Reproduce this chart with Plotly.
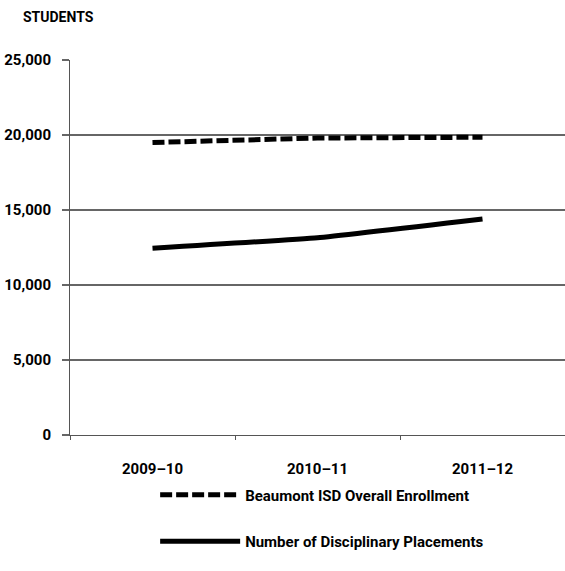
import plotly.graph_objects as go

years = ["2009\u201310", "2010\u201311", "2011\u201312"]
enrollment = [19500, 19800, 19850]
placements = [12450, 13150, 14400]
y_ticks = [0, 5000, 10000, 15000, 20000, 25000]
y_labels = ["0", "5,000", "10,000", "15,000", "20,000", "25,000"]

FONT = "Roboto, sans-serif"

def f(size):
    return dict(family=FONT, size=size, color="black", weight="bold")

fig = go.Figure()
fig.add_trace(go.Scatter(
    x=years, y=enrollment, mode="lines",
    name="Beaumont ISD Overall Enrollment",
    line=dict(color="black", width=5, dash="12px,4px"),
    legendgroup="a",
))
fig.add_trace(go.Scatter(
    x=years, y=placements, mode="lines",
    name="Number of Disciplinary Placements",
    line=dict(color="black", width=5, shape="spline", smoothing=0.3),
    legendgroup="b",
))

fig.update_layout(
    width=565, height=571,
    margin=dict(l=70, r=0, t=60, b=136),
    paper_bgcolor="white", plot_bgcolor="white",
    font=f(14),
    showlegend=True,
    legend=dict(
        orientation="v", x=0.172, xanchor="left", y=-0.116, yanchor="top",
        font=f(15),
        tracegroupgap=24, itemwidth=80,
    ),
    annotations=[dict(
        text="STUDENTS", x=-0.1, xanchor="left", y=1.115, yanchor="middle",
        xref="paper", yref="paper", showarrow=False, font=f(14),
    )],
)

fig.update_xaxes(
    type="category", range=[-0.5, 2.5],
    showgrid=False, showline=True, linecolor="#555", linewidth=1,
    ticks="outside", tickson="boundaries", ticklen=4, tickcolor="#555",
    tickfont=f(15),
    ticklabelstandoff=20,
)
fig.update_yaxes(
    range=[0, 25000], tickvals=y_ticks, ticktext=y_labels,
    showgrid=True, gridcolor="#666", gridwidth=2,
    showline=True, linecolor="#555", linewidth=1,
    ticks="outside", ticklen=7, tickcolor="#666", tickwidth=2,
    tickfont=f(15), ticklabelstandoff=8,
    zeroline=False,
)

fig.write_html("out.html")
